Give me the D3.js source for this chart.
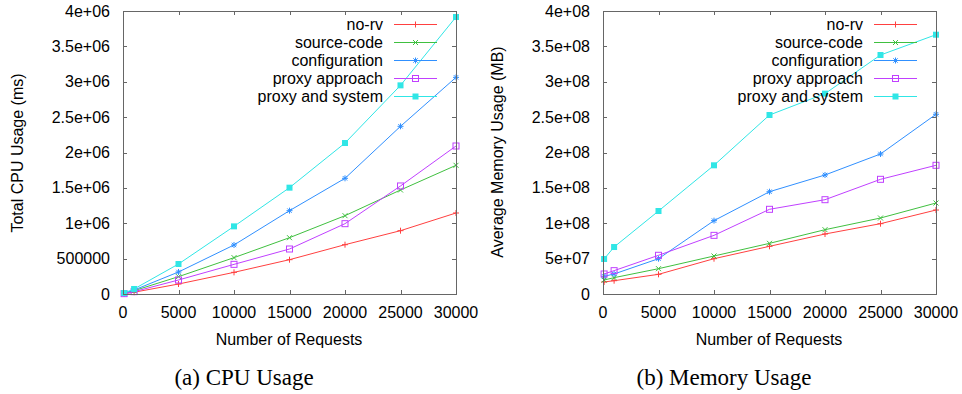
<!DOCTYPE html>
<html>
<head>
<meta charset="utf-8">
<script src="https://cdn.jsdelivr.net/npm/d3@7"></script>
<style>
  body { margin: 0; background: #fff; }
  svg { display: block; }
</style>
</head>
<body>
<svg id="chart" width="962" height="394"></svg>
<script>
// x values (number of requests)
var requests = [100, 1000, 5000, 10000, 15000, 20000, 25000, 30000];

var seriesNames = ["no-rv", "source-code", "configuration", "proxy approach", "proxy and system"];
var seriesColors = ["#ff4040", "#40c040", "#3090ff", "#c040ff", "#30e6e6"];
var seriesMarks = ["plus", "cross", "star", "square", "filled"];

// total CPU usage (ms)
var cpuNoRv = [5000, 25000, 141000, 306000, 485000, 697000, 895000, 1145000];
var cpuSource = [10000, 47000, 245000, 514000, 796000, 1107000, 1470000, 1819000];
var cpuConfig = [10000, 56000, 311000, 693000, 1178000, 1635000, 2370000, 3062000];
var cpuProxy = [5000, 33000, 198000, 419000, 636000, 994000, 1527000, 2092000];
var cpuProxySys = [14000, 71000, 424000, 956000, 1503000, 2134000, 2949000, 3915000];

// average memory usage (MB)
var memNoRv = [1.70e7, 1.88e7, 2.78e7, 4.99e7, 6.74e7, 8.48e7, 9.94e7, 1.187e8];
var memSource = [1.98e7, 2.31e7, 3.58e7, 5.37e7, 7.16e7, 9.09e7, 1.074e8, 1.286e8];
var memConfig = [2.50e7, 2.83e7, 4.99e7, 1.037e8, 1.446e8, 1.682e8, 1.979e8, 2.54e8];
var memProxy = [2.83e7, 3.30e7, 5.47e7, 8.29e7, 1.197e8, 1.333e8, 1.621e8, 1.819e8];
var memProxySys = [4.95e7, 6.64e7, 1.173e8, 1.819e8, 2.53e8, 2.832e8, 3.378e8, 3.665e8];

var xTicks = [0, 5000, 10000, 15000, 20000, 25000, 30000];
var cpuTicks = [0, 500000, 1e6, 1.5e6, 2e6, 2.5e6, 3e6, 3.5e6, 4e6];
var cpuTickLabels = ["0", "500000", "1e+06", "1.5e+06", "2e+06", "2.5e+06", "3e+06", "3.5e+06", "4e+06"];
var memTicks = [0, 5e7, 1e8, 1.5e8, 2e8, 2.5e8, 3e8, 3.5e8, 4e8];
var memTickLabels = ["0", "5e+07", "1e+08", "1.5e+08", "2e+08", "2.5e+08", "3e+08", "3.5e+08", "4e+08"];

var svg = d3.select("#chart");
var sans = "'Liberation Sans', Arial, sans-serif";
var serif = "'Liberation Serif', 'Times New Roman', serif";
var fontSize = 16;

function drawMark(g, type, x, y, color) {
    if (type == "plus") {
        g.append("path").attr("d", `M${x - 3},${y}H${x + 3}M${x},${y - 3}V${y + 3}`)
            .attr("stroke", color).attr("fill", "none");
    } else if (type == "cross") {
        g.append("path").attr("d", `M${x - 2.5},${y - 2.5}L${x + 2.5},${y + 2.5}M${x - 2.5},${y + 2.5}L${x + 2.5},${y - 2.5}`)
            .attr("stroke", color).attr("fill", "none");
    } else if (type == "star") {
        g.append("path").attr("d", `M${x - 3},${y}H${x + 3}M${x},${y - 3}V${y + 3}M${x - 2.2},${y - 2.2}L${x + 2.2},${y + 2.2}M${x - 2.2},${y + 2.2}L${x + 2.2},${y - 2.2}`)
            .attr("stroke", color).attr("fill", "none");
    } else if (type == "square") {
        g.append("rect").attr("x", x - 3).attr("y", y - 3).attr("width", 6).attr("height", 6)
            .attr("stroke", color).attr("fill", "none");
    } else {
        g.append("rect").attr("x", x - 3).attr("y", y - 3).attr("width", 6).attr("height", 6)
            .attr("fill", color);
    }
}

function drawPanel(para) {
    var g = svg.append("g").attr("transform", `translate(${para.dx},0)`);
    var left = 123, right = 456, top = 11, bottom = 294;

    var x = d3.scaleLinear().domain([0, 30000]).range([left, right]);
    var y = d3.scaleLinear().domain([0, para.yMax]).range([bottom, top]);

    // tick marks, mirrored on all sides and pointing inward
    var tickLen = 4;
    var ticks = g.append("g").attr("stroke", "#666").attr("stroke-width", 1);
    para.yTicks.forEach(t => {
        var yy = Math.round(y(t)) + 0.5;
        ticks.append("line").attr("x1", left).attr("x2", left + tickLen).attr("y1", yy).attr("y2", yy);
        ticks.append("line").attr("x1", right - tickLen).attr("x2", right).attr("y1", yy).attr("y2", yy);
    });
    xTicks.forEach(t => {
        var xx = Math.round(x(t)) + 0.5;
        ticks.append("line").attr("x1", xx).attr("x2", xx).attr("y1", bottom).attr("y2", bottom - tickLen);
        ticks.append("line").attr("x1", xx).attr("x2", xx).attr("y1", top).attr("y2", top + tickLen);
    });

    // tick labels
    g.append("g").selectAll("text")
        .data(para.yTicks)
        .join("text")
        .attr("x", 110)
        .attr("y", d => y(d))
        .attr("dy", "0.35em")
        .attr("text-anchor", "end")
        .attr("font-family", sans)
        .attr("font-size", fontSize)
        .text((d, i) => para.yLabels[i]);

    g.append("g").selectAll("text")
        .data(xTicks)
        .join("text")
        .attr("x", d => x(d))
        .attr("y", 312)
        .attr("dy", "0.35em")
        .attr("text-anchor", "middle")
        .attr("font-family", sans)
        .attr("font-size", fontSize)
        .text(d => d);

    // axis titles
    g.append("text")
        .attr("x", 289).attr("y", 339).attr("dy", "0.35em")
        .attr("text-anchor", "middle")
        .attr("font-family", sans).attr("font-size", fontSize)
        .text("Number of Requests");
    g.append("text")
        .attr("transform", `translate(17,${para.yTitleY}) rotate(-90)`)
        .attr("dy", "0.35em")
        .attr("text-anchor", "middle")
        .attr("font-family", sans).attr("font-size", fontSize)
        .text(para.yTitle);

    // caption
    g.append("text")
        .attr("x", para.captionX).attr("y", 377).attr("dy", "0.35em")
        .attr("text-anchor", "middle")
        .attr("font-family", serif).attr("font-size", 23)
        .text(para.caption);

    // series
    var line = d3.line().x((d, i) => x(requests[i])).y(d => y(d));
    para.series.forEach((vals, s) => {
        var sg = g.append("g");
        sg.append("path")
            .attr("d", line(vals))
            .attr("fill", "none")
            .attr("stroke", seriesColors[s])
            .attr("stroke-width", 1);
        vals.forEach((v, i) => drawMark(sg, seriesMarks[s], x(requests[i]), y(v), seriesColors[s]));
    });

    // key
    seriesNames.forEach((name, s) => {
        var ly = 24 + s * 18;
        g.append("text")
            .attr("x", 383).attr("y", ly).attr("dy", "0.35em")
            .attr("text-anchor", "end")
            .attr("font-family", sans).attr("font-size", fontSize)
            .text(name);
        g.append("line")
            .attr("x1", 394).attr("x2", 437).attr("y1", ly + 0.5).attr("y2", ly + 0.5)
            .attr("stroke", seriesColors[s]);
        drawMark(g, seriesMarks[s], 415.5, ly + 0.5, seriesColors[s]);
    });

    // frame
    g.append("rect")
        .attr("x", left + 0.5).attr("y", top + 0.5)
        .attr("width", right - left).attr("height", bottom - top)
        .attr("fill", "none").attr("stroke", "#666");
}

drawPanel({
    dx: 0, yMax: 4e6, yTicks: cpuTicks, yLabels: cpuTickLabels,
    yTitle: "Total CPU Usage (ms)", yTitleY: 153,
    caption: "(a) CPU Usage", captionX: 244,
    series: [cpuNoRv, cpuSource, cpuConfig, cpuProxy, cpuProxySys]
});
drawPanel({
    dx: 480, yMax: 4e8, yTicks: memTicks, yLabels: memTickLabels,
    yTitle: "Average Memory Usage (MB)", yTitleY: 152,
    caption: "(b) Memory Usage", captionX: 244,
    series: [memNoRv, memSource, memConfig, memProxy, memProxySys]
});
</script>
</body>
</html>
